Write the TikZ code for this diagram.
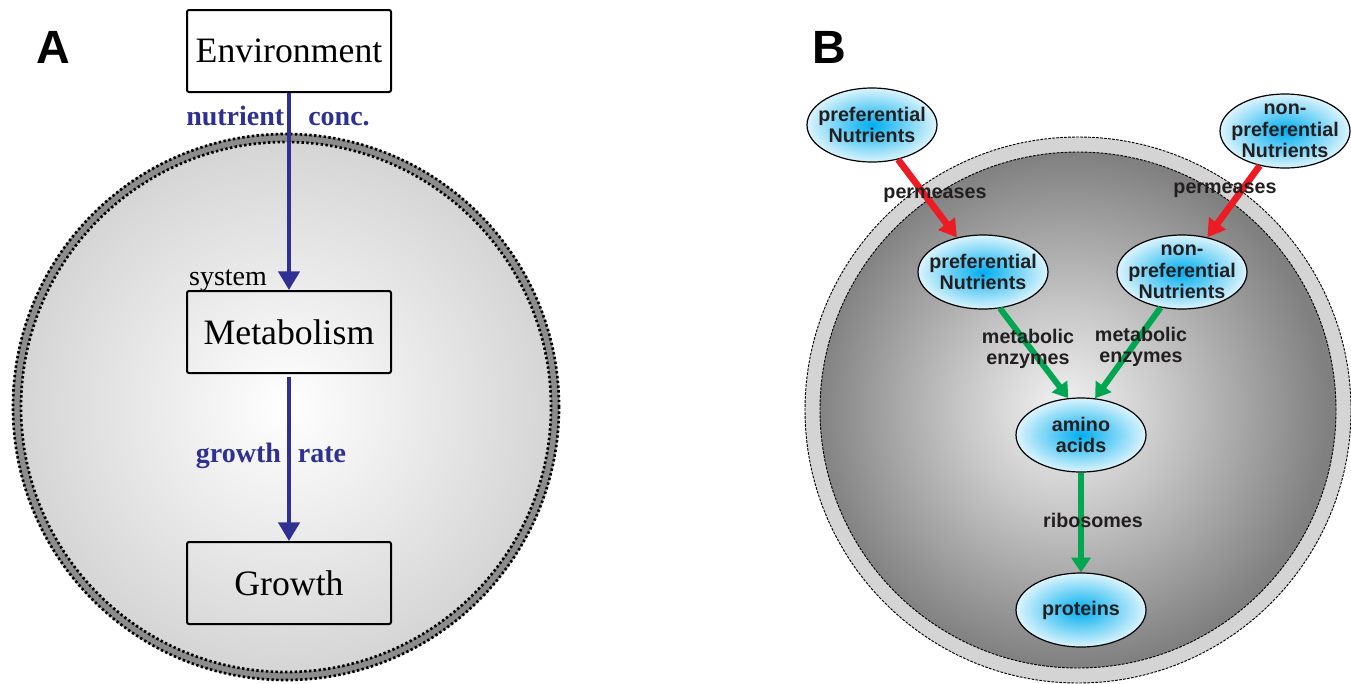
\documentclass[tikz,border=0pt]{standalone}
\usepackage{fontspec}
\setmainfont{Liberation Serif}
\newfontfamily\sansbold{Liberation Sans}
\usetikzlibrary{shapes.geometric,arrows.meta}

\definecolor{flowblue}{RGB}{46,49,146}
\definecolor{permred}{RGB}{237,28,36}
\definecolor{enzgreen}{RGB}{0,166,81}
\definecolor{nutcyan}{RGB}{0,174,239}
\definecolor{labelgray}{RGB}{35,31,32}

% cell interior of panel B, light spot near the middle
\pgfdeclareradialshading{cellB}{\pgfpoint{-1.5bp}{0bp}}{color(0bp)=(black!5); color(10bp)=(black!22); color(25bp)=(black!50); color(50bp)=(black!50)}

\tikzset{
    box/.style={draw,line width=1.5pt,rounded corners=1.5pt,minimum width=153pt,minimum height=61.5pt,inner sep=0pt,font=\fontsize{26.8}{30}\selectfont},
    flow/.style={draw=flowblue,line width=2.6pt,-{Triangle[width=16pt,length=14pt]}},
    flowlabel/.style={text=flowblue,inner sep=0pt,font=\fontsize{21}{24}\selectfont\bfseries},
    nutrient/.style={ellipse,draw,line width=0.9pt,inner color=nutcyan,outer color=nutcyan!14,minimum width=97.5pt,minimum height=55.5pt,inner xsep=-9pt,inner ysep=-10pt,align=center,text=labelgray,font=\sansbold\fontsize{14.8}{16}\selectfont\bfseries},
    enzlabel/.style={inner sep=0pt,align=center,text=labelgray,font=\sansbold\fontsize{14.8}{16}\selectfont\bfseries},
    permarrow/.style={draw=permred,line width=5pt,-{Triangle[width=15pt,length=13pt]}},
    enzarrow/.style={draw=enzgreen,line width=4.5pt,-{Triangle[width=14pt,length=11pt]}},
    dotring/.style={line width=2pt,dash pattern=on 1.8pt off 1.8pt},
    dashring/.style={line width=0.7pt,dash pattern=on 2pt off 1pt}
}

\begin{document}
\begin{tikzpicture}[x=0.75pt,y=-0.75pt]
    \useasboundingbox (0,0) rectangle (1351,683);

    % panel A
    \shade[inner color=white,outer color=black!17] (286,407) circle[radius=205.5pt];
    \draw[black!45,line width=6pt] (286,407) circle[radius=201.75pt];
    \draw[dotring] (286,407) circle[radius=204.75pt];
    \draw[dotring] (286,407) circle[radius=198.75pt];

    \node[font=\sansbold\fontsize{35}{40}\selectfont\bfseries] (panelA) at (53,47) {A};
    \node[box,fill=white] (env) at (289,51) {Environment};
    \node[box] (meta) at (289,332) {Metabolism};
    \node[box] (grow) at (289,583) {Growth};
    \node[anchor=base,inner sep=0pt,font=\fontsize{21}{24}\selectfont] (sys) at (228,285) {system};

    \draw[flow] (env) -- (meta);
    \draw[flow] ([yshift=-2pt]meta.south) -- (grow);
    \node[flowlabel,anchor=base] (nutconc) at (278,125) {nutrient\hspace{18pt}conc.};
    \node[flowlabel,anchor=base] (grate) at (271,462) {growth\hspace{12.75pt}rate};

    % panel B
    \fill[black!17] (1078,410) circle[radius=204.75pt];
    \draw[dashring] (1078,410) circle[radius=204.75pt];
    \shade[shading=cellB] (1078,410) circle[radius=193.5pt];
    \draw[dashring] (1078,410) circle[radius=193.5pt];

    \node[font=\sansbold\fontsize{35}{40}\selectfont\bfseries] (panelB) at (829,47) {B};
    \node[nutrient] (prefOut) at (872,125) {preferential\\Nutrients};
    \node[nutrient] (nonOut) at (1285,131) {non-\\preferential\\Nutrients};
    \node[nutrient] (prefIn) at (983,272) {preferential\\Nutrients};
    \node[nutrient] (nonIn) at (1182,272) {non-\\preferential\\Nutrients};
    \node[nutrient] (amino) at (1081,435) {amino\\acids};
    \node[nutrient] (prot) at (1081,610) {proteins};

    \draw[permarrow] (prefOut) -- (prefIn);
    \draw[permarrow] (nonOut) -- (nonIn);
    \draw[enzarrow] (prefIn.-65) -- (amino.109);
    \draw[enzarrow] (nonIn.-121) -- (amino.69);
    \draw[enzarrow] (amino) -- (prot);

    \node[enzlabel] (perm1) at (935,195) {permeases};
    \node[enzlabel] (perm2) at (1225,190) {permeases};
    \node[enzlabel] (enz1) at (1028,349) {metabolic\\enzymes};
    \node[enzlabel] (enz2) at (1141,347) {metabolic\\enzymes};
    \node[enzlabel] (ribo) at (1093,520) {ribosomes};
\end{tikzpicture}
\end{document}
